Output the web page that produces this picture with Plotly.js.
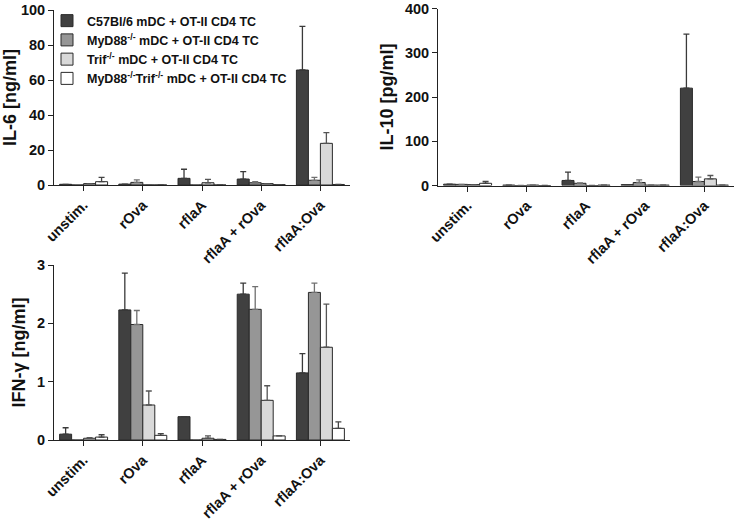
<!DOCTYPE html>
<html>
<head>
<meta charset="utf-8">
<script src="https://cdn.plot.ly/plotly-3.0.1.min.js"></script>
<style>
  html, body { margin: 0; padding: 0; background: #fff; }
  #chart { width: 737px; height: 520px; }
</style>
</head>
<body>
<div id="chart"></div>
<script>
var categories = ['unstim.', 'rOva', 'rflaA', 'rflaA + rOva', 'rflaA:Ova'];

var seriesNames = [
    'C57Bl/6 mDC + OT-II CD4 TC',
    'MyD88<sup>-/-</sup> mDC + OT-II CD4 TC',
    'Trif<sup>-/-</sup> mDC + OT-II CD4 TC',
    'MyD88<sup>-/-</sup>Trif<sup>-/-</sup> mDC + OT-II CD4 TC'
];

// IL-6 [ng/ml]
var il6_c57 = [0.4, 0.5, 3.8, 3.4, 65.7];
var il6_c57_err = [0, 0, 5.2, 4.2, 25];
var il6_myd = [0, 1.5, 0, 1.3, 2.7];
var il6_myd_err = [0, 1.4, 0, 0.6, 1.7];
var il6_trif = [0.8, 0, 1.3, 0.8, 23.8];
var il6_trif_err = [0, 0, 1.9, 0, 6.1];
var il6_dko = [1.9, 0, 0, 0.2, 0.3];
var il6_dko_err = [2.5, 0, 0, 0, 0];

// IL-10 [pg/ml]
var il10_c57 = [3, 1, 11.4, 2, 220];
var il10_c57_err = [0, 0, 19, 0, 122];
var il10_myd = [2.5, 0, 5, 6.8, 9];
var il10_myd_err = [0, 0, 1, 6, 10];
var il10_trif = [2, 1, 0, 1, 15];
var il10_trif_err = [0, 0, 0, 0, 7.6];
var il10_dko = [5, 0, 1, 1, 1];
var il10_dko_err = [4, 0, 0, 0, 0];

// IFN-y [ng/ml]
var ifn_c57 = [0.1, 2.23, 0.4, 2.5, 1.15];
var ifn_c57_err = [0.11, 0.63, 0, 0.19, 0.33];
var ifn_myd = [0, 1.98, 0, 2.24, 2.53];
var ifn_myd_err = [0, 0.24, 0, 0.39, 0.16];
var ifn_trif = [0.03, 0.6, 0.03, 0.68, 1.59];
var ifn_trif_err = [0.01, 0.24, 0.04, 0.25, 0.74];
var ifn_dko = [0.05, 0.08, 0.01, 0.07, 0.2];
var ifn_dko_err = [0.04, 0.03, 0, 0, 0.11];

var fills = ['#404040', '#969696', '#d9d9d9', '#ffffff'];
var errColors = ['#3a3a3a', '#707070', '#555555', '#444444'];

var panels = [
    { x: 'x', y: 'y', data: [[il6_c57, il6_c57_err], [il6_myd, il6_myd_err], [il6_trif, il6_trif_err], [il6_dko, il6_dko_err]] },
    { x: 'x2', y: 'y2', data: [[il10_c57, il10_c57_err], [il10_myd, il10_myd_err], [il10_trif, il10_trif_err], [il10_dko, il10_dko_err]] },
    { x: 'x3', y: 'y3', data: [[ifn_c57, ifn_c57_err], [ifn_myd, ifn_myd_err], [ifn_trif, ifn_trif_err], [ifn_dko, ifn_dko_err]] }
];

var traces = [];
panels.forEach(function (p, pi) {
    p.data.forEach(function (d, si) {
        traces.push({
            type: 'bar',
            x: categories,
            y: d[0],
            xaxis: p.x,
            yaxis: p.y,
            name: seriesNames[si],
            legendgroup: 's' + si,
            showlegend: pi == 0,
            marker: { color: fills[si], line: { color: '#2a2a2a', width: 1 } },
            error_y: {
                type: 'data',
                array: d[1],
                arrayminus: d[1].map(function () { return 0; }),
                symmetric: false,
                color: errColors[si],
                thickness: 1.3,
                width: 3
            },
            hoverinfo: 'y'
        });
    });
});

var W = 737, H = 520;
function px(a, b) { return [a / W, b / W]; }
function py(top, bottom) { return [1 - bottom / H, 1 - top / H]; }

var font = { family: 'Liberation Sans, Arial, sans-serif', size: 14.5, color: '#111', weight: 'bold' };
var titleFont = { family: 'Liberation Sans, Arial, sans-serif', size: 18, color: '#111', weight: 'bold' };

function xAxis(domain, anchor) {
    return {
        domain: domain, anchor: anchor,
        range: [-0.5, 4.5],
        showline: true, linecolor: '#222', linewidth: 1,
        ticks: 'outside', ticklen: 5, tickcolor: '#222',
        tickangle: -45, tickfont: font,
        showgrid: false, zeroline: false, fixedrange: true
    };
}
function yAxis(domain, anchor, range, dtick, title) {
    return {
        domain: domain, anchor: anchor,
        range: range, dtick: dtick,
        showline: true, linecolor: '#222', linewidth: 1,
        ticks: 'outside', ticklen: 5, tickcolor: '#222',
        tickfont: font,
        title: { text: title, font: titleFont, standoff: 6 },
        showgrid: false, zeroline: false, fixedrange: true
    };
}

var layout = {
    width: W, height: H,
    margin: { l: 0, r: 0, t: 0, b: 0 },
    paper_bgcolor: '#fff', plot_bgcolor: '#fff',
    barmode: 'group', bargap: 0.19, bargroupgap: 0,
    showlegend: true,
    legend: {
        x: 47 / W, y: 1 - 6 / H, xanchor: 'left', yanchor: 'top',
        bgcolor: 'rgba(0,0,0,0)',
        font: { family: 'Liberation Sans, Arial, sans-serif', size: 12.5, color: '#111', weight: 'bold' },
        tracegroupgap: 0, itemwidth: 30
    },
    xaxis: xAxis(px(54, 350), 'y'),
    yaxis: yAxis(py(10, 185), 'x', [0, 100], 20, 'IL-6 [ng/ml]'),
    xaxis2: xAxis(px(438, 734), 'y2'),
    yaxis2: yAxis(py(8.5, 185.5), 'x2', [0, 400], 100, 'IL-10 [pg/ml]'),
    xaxis3: xAxis(px(54, 350), 'y3'),
    yaxis3: yAxis(py(265, 440), 'x3', [0, 3], 1, 'IFN-γ [ng/ml]')
};

Plotly.newPlot('chart', traces, layout, { displayModeBar: false, staticPlot: true });
</script>
</body>
</html>
